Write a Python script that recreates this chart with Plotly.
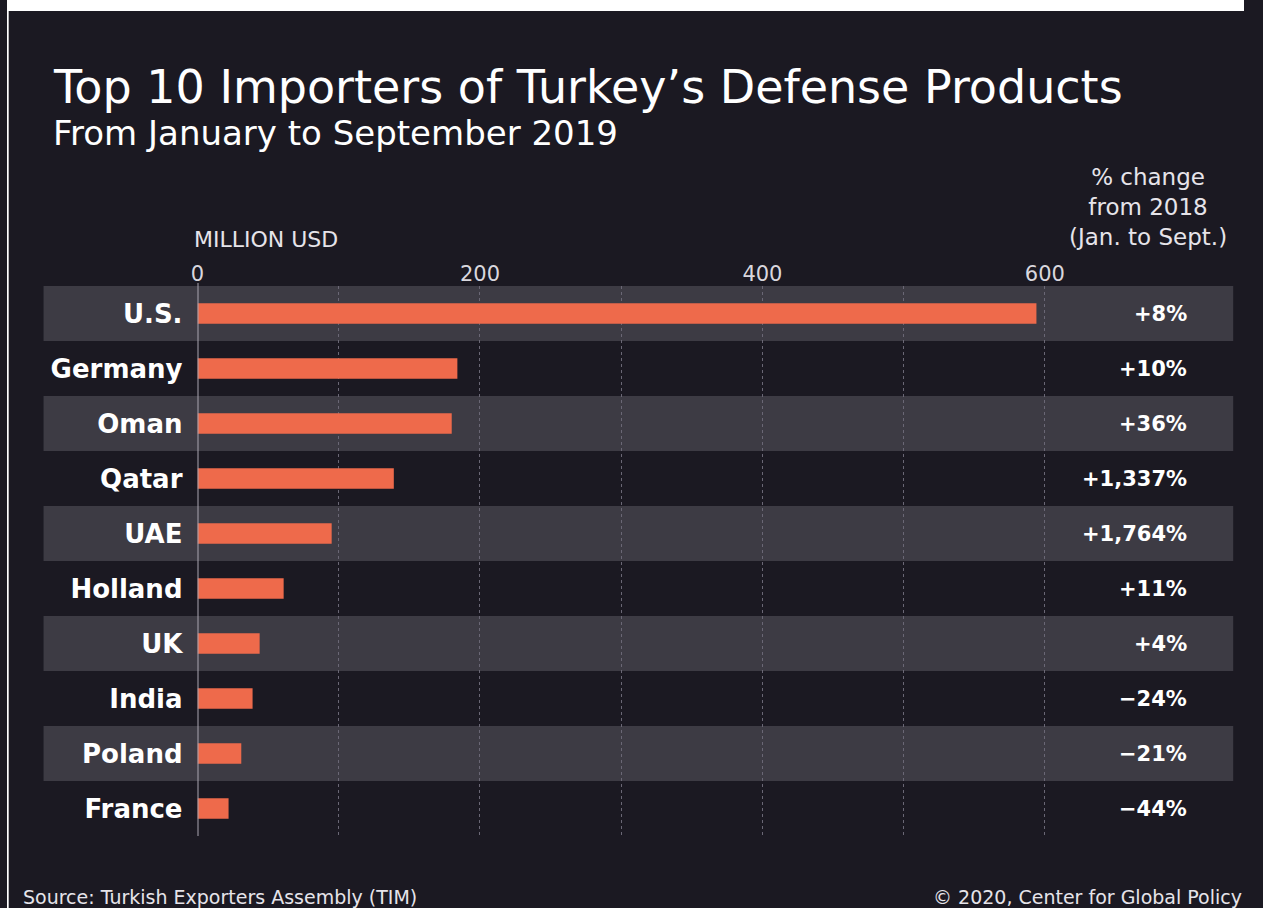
import plotly.graph_objects as go

countries = ["U.S.", "Germany", "Oman", "Qatar", "UAE", "Holland", "UK", "India", "Poland", "France"]
values = [594, 184, 180, 139, 95, 61, 44, 39, 31, 22]
pct_change = ["+8%", "+10%", "+36%", "+1,337%", "+1,764%", "+11%", "+4%", "\u221224%", "\u221221%", "\u221244%"]
tick_vals = [0, 200, 400, 600]

W, H = 1263, 908
BG = "#1b1922"
BAND = "#3d3b44"
BAR = "#ee6a4b"
FONT = "DejaVu Sans"

# horizontal placement helper (pixel -> paper fraction), with a small
# correction for how the page is captured horizontally
SX, OX = 0.983, 5.3

def px_x(p):
    return ((p - OX) / SX) / W

def px_y(p):
    return 1 - p / H

x0_px, x600_px = 196.5, 1047
xmax = 601
x_end_px = x0_px + (x600_px - x0_px) * xmax / 600
top_px, bot_px = 286, 836

fig = go.Figure()
fig.add_trace(go.Bar(
    x=values, y=countries, orientation="h",
    marker=dict(color=BAR, line=dict(width=0)),
    width=0.37, hoverinfo="skip",
))

shapes = []
shapes.append(dict(type="rect", xref="paper", yref="paper", x0=0, x1=1, y0=px_y(11), y1=1,
                   fillcolor="#ffffff", line=dict(width=0), layer="below"))
shapes.append(dict(type="rect", xref="paper", yref="paper", x0=0, x1=max(px_x(7), 0.0008), y0=0, y1=1,
                   fillcolor="#ffffff", line=dict(width=0), layer="below"))
for i, c in enumerate(countries):
    if i % 2 == 0:
        shapes.append(dict(type="rect", xref="paper", yref="y", x0=px_x(42), x1=px_x(1236),
                           y0=i - 0.5, y1=i + 0.5, fillcolor=BAND, line=dict(width=0), layer="below"))
shapes.append(dict(type="line", xref="x", yref="paper", x0=0, x1=0, y0=px_y(bot_px), y1=px_y(top_px - 3),
                   line=dict(color="#a9a6b0", width=2), layer="above"))

annotations = []
for i, p in enumerate(pct_change):
    annotations.append(dict(x=px_x(1192), y=countries[i], xref="paper", yref="y", text=p,
                            xanchor="right", yanchor="middle", showarrow=False,
                            font=dict(family=FONT, size=21, color="#ffffff", weight="bold")))

annotations += [
    dict(x=px_x(49), y=px_y(87), xref="paper", yref="paper", text="Top 10 Importers of Turkey\u2019s Defense Products",
         xanchor="left", yanchor="middle", showarrow=False,
         font=dict(family=FONT, size=46, color="#ffffff")),
    dict(x=px_x(49), y=px_y(133), xref="paper", yref="paper", text="From January to September 2019",
         xanchor="left", yanchor="middle", showarrow=False,
         font=dict(family=FONT, size=34, color="#ffffff")),
    dict(x=px_x(191), y=px_y(239), xref="paper", yref="paper", text="MILLION USD",
         xanchor="left", yanchor="middle", showarrow=False,
         font=dict(family=FONT, size=22, color="#e6e4ea")),
    dict(x=px_x(1150), y=px_y(207), xref="paper", yref="paper",
         text="% change<br>from 2018<br>(Jan. to Sept.)",
         xanchor="center", yanchor="middle", showarrow=False, align="center",
         font=dict(family=FONT, size=23, color="#e6e4ea")),
    dict(x=px_x(19), y=px_y(897), xref="paper", yref="paper", text="Source: Turkish Exporters Assembly (TIM)",
         xanchor="left", yanchor="middle", showarrow=False,
         font=dict(family=FONT, size=19, color="#e6e4ea")),
    dict(x=1, y=px_y(897), xref="paper", yref="paper", text="\u00a9 2020, Center for Global Policy",
         xanchor="right", yanchor="middle", showarrow=False,
         font=dict(family=FONT, size=19, color="#e6e4ea")),
]

fig.update_layout(
    width=W, height=H,
    autosize=False,
    margin=dict(l=0, r=0, t=0, b=0),
    paper_bgcolor=BG,
    plot_bgcolor="rgba(0,0,0,0)",
    showlegend=False,
    shapes=shapes,
    annotations=annotations,
    xaxis=dict(
        domain=[px_x(x0_px), px_x(x_end_px)],
        range=[0, xmax], side="top",
        tickmode="array", tickvals=tick_vals, ticktext=[str(v) for v in tick_vals],
        tickfont=dict(family=FONT, size=21, color="#d9d7de"),
        ticks="", showline=False, zeroline=False,
        showgrid=True, gridcolor="#6a6775", griddash="dot", gridwidth=1,
        minor=dict(dtick=100, tick0=0, showgrid=True, gridcolor="#6a6775", griddash="dot", gridwidth=1),
        fixedrange=True,
    ),
    yaxis=dict(
        domain=[px_y(bot_px), px_y(top_px)],
        autorange="reversed",
        tickfont=dict(family=FONT, size=26, color="#ffffff", weight="bold"),
        ticks="", ticklabelstandoff=14, showgrid=False, zeroline=False, showline=False,
        fixedrange=True,
    ),
)

fig.write_html("out.html", config={"responsive": False})
